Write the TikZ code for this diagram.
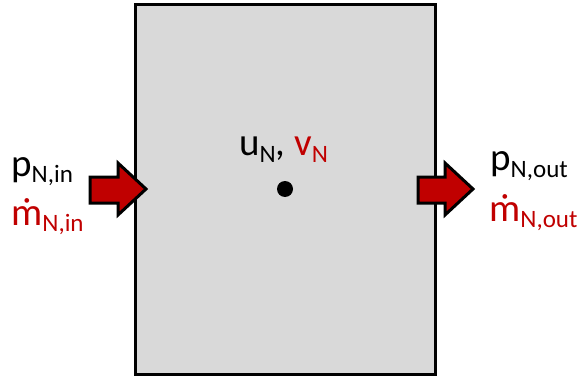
\documentclass[tikz,border=0pt]{standalone}
\usepackage{fontspec}
\setmainfont{Carlito}
\definecolor{boxgray}{HTML}{D9D9D9}
\definecolor{darkred}{HTML}{C00000}
\newcommand\bigtxt{\fontsize{39}{41}\selectfont}
\newcommand\subtxt[1]{\raisebox{-6pt}{\fontsize{25}{27}\selectfont #1}}
\begin{document}
\begin{tikzpicture}[x=1pt,y=-1pt,
  lbl/.style={anchor=base west,inner sep=0pt,font=\bigtxt},
  flowarrow/.style={draw=black,line width=3pt,fill=darkred,line join=miter}]
\useasboundingbox (0,0) rectangle (581,377);
\node[draw=black,line width=3pt,fill=boxgray,minimum width=300pt,minimum height=369pt,inner sep=0pt] (box) at (285,189.5) {};
\fill[black] (285,189) circle (8pt) node (dot) {};
\draw[flowarrow] (90,177) -- (118,177) -- (118,163) -- (146,189) -- (118,215) -- (118,203) -- (90,203) -- cycle;
\draw[flowarrow] (418,177) -- (445,177) -- (445,163) -- (473,189) -- (445,215) -- (445,203) -- (418,203) -- cycle;
\node[lbl] (pin) at (11,176) {p\subtxt{N,in}};
\node[lbl,text=darkred] (min) at (11,225) {ṁ\subtxt{N,in}};
\node[lbl] (pout) at (490,171) {p\subtxt{N,out}};
\node[lbl,text=darkred] (mout) at (489,221) {ṁ\subtxt{N,out}};
\node[lbl] (uv) at (239,156) {u\subtxt{N}, \textcolor{darkred}{v\subtxt{N}}};
\end{tikzpicture}
\end{document}
